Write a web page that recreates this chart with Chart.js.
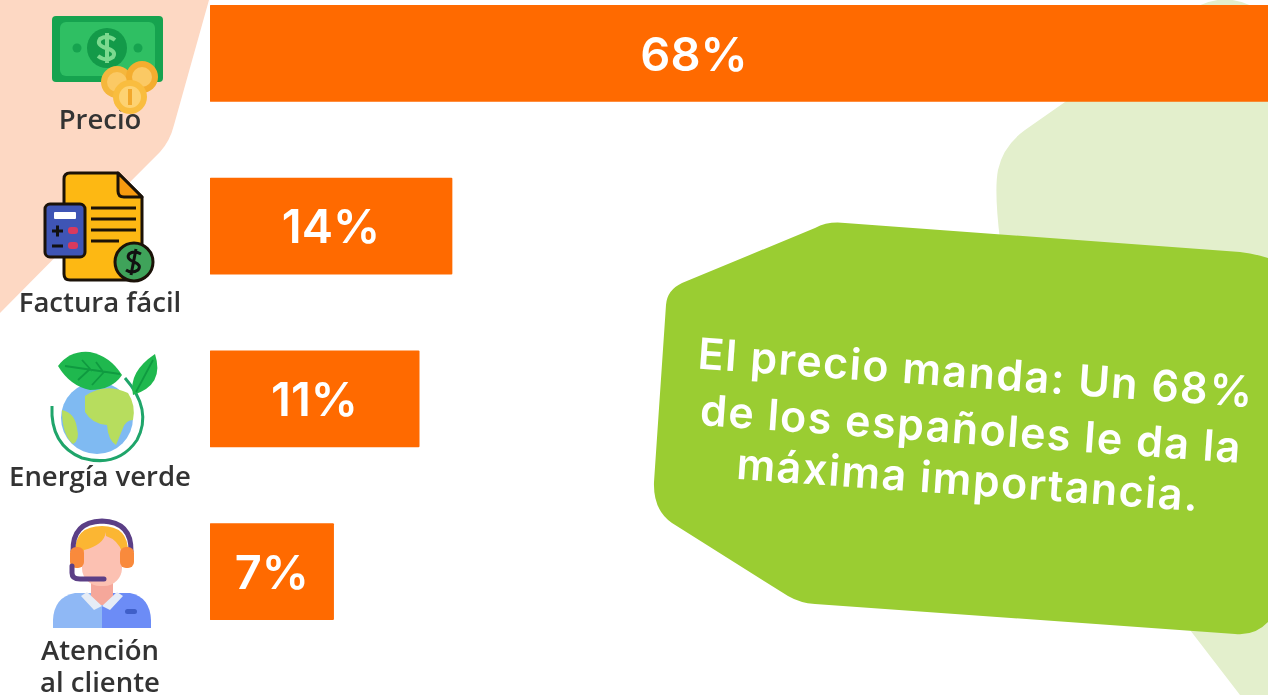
<!DOCTYPE html>
<html lang="es">
<head>
<meta charset="utf-8">
<title>El precio manda</title>
<style>
html,body{margin:0;padding:0;background:#fff;width:1268px;height:695px;overflow:hidden}
svg.layer{position:absolute;left:0;top:0;width:1268px;height:695px}
#bg{z-index:0}
#wrap{position:absolute;left:0;top:-33px;width:1268px;height:728px;z-index:1}
#fg{z-index:2}
</style>
<script src="https://cdn.jsdelivr.net/npm/chart.js@4"></script>
</head>
<body>
<svg id="bg" class="layer" viewBox="0 0 1268 695">
  <path fill="#fdd8c3" d="M0,0 L209,0 L174,125 Q170,141 160,152 Q80,232 0,313 Z"/>
  <path fill="#e3efcc" d="M1198,6 Q1225,-7 1252,6 L1268,14 L1268,695 L1240,695 L1190,630 L1000,240 Q994,190 998,170 Q1003,146 1025,130 L1075,95 Z"/>
</svg>
<div id="wrap"><canvas id="chart"></canvas></div>
<svg id="fg" class="layer" viewBox="0 0 1268 695">
  <!-- Billete -->
  <rect x="52" y="16" width="111" height="66" rx="4" fill="#16a34f"/>
  <rect x="60" y="22" width="95" height="54" rx="6" fill="#2fbf63"/>
  <circle cx="77" cy="48" r="4.5" fill="#16a34f"/><circle cx="138" cy="48" r="4.5" fill="#16a34f"/>
  <circle cx="107" cy="48" r="20" fill="#139a49"/>
  <path d="M115,40 Q107,34 100,39 Q96,45 106,48 Q117,51 113,57 Q106,62 98,56 M107,33 V63" fill="none" stroke="#7bd98f" stroke-width="4"/>
  <circle cx="117" cy="82" r="16" fill="#f5b73d"/><circle cx="142" cy="77" r="16" fill="#f4ad2f"/>
  <circle cx="117" cy="82" r="10" fill="#fbc964"/><circle cx="142" cy="77" r="10" fill="#fbc964"/>
  <circle cx="130" cy="97" r="17" fill="#f9bd3f"/><circle cx="130" cy="97" r="11" fill="#fdd272"/>
  <rect x="128" y="89" width="4" height="16" fill="#f2a82b"/>
  <!-- Factura -->
  <path d="M70,173 H118 L142,197 V275 Q142,280 136,280 H70 Q64,280 64,274 V179 Q64,173 70,173 Z" fill="#fdb813" stroke="#1b1208" stroke-width="3" stroke-linejoin="round"/>
  <path d="M118,173 L142,197 H124 Q118,197 118,191 Z" fill="#f79a0f" stroke="#1b1208" stroke-width="3" stroke-linejoin="round"/>
  <path d="M91,208 H136 M91,219 H136 M91,230 H136 M91,241 H119" stroke="#1b1208" stroke-width="3" fill="none"/>
  <rect x="45" y="204" width="40" height="53" rx="5" fill="#3f55b5" stroke="#1b1208" stroke-width="3"/>
  <rect x="54" y="212" width="22" height="7" rx="1" fill="#fff"/>
  <path d="M52,231 H63 M57.500,225.500 V236.500 M52,246 H63" stroke="#111" stroke-width="3"/>
  <rect x="68" y="227" width="10" height="7" rx="3" fill="#d83a5e"/><rect x="68" y="242" width="10" height="7" rx="3" fill="#d83a5e"/>
  <circle cx="134" cy="262" r="19" fill="#3fa35a" stroke="#1b1208" stroke-width="3"/>
  <path d="M141,254 Q134,250 129,254 Q126,259 134,262 Q142,265 138,270 Q132,274 126,270 M136,249 L131,275" fill="none" stroke="#111" stroke-width="3"/>
  <!-- Planeta -->
  <circle cx="97" cy="418" r="36" fill="#7fbaf2"/>
  <path fill="#b7dd5e" d="M85,396 Q105,382 128,393 Q136,405 133,420 Q126,420 123,428 L116,445 Q108,440 107,425 Q92,424 85,412 Z M62,410 Q75,413 77,428 Q80,440 73,444 Q62,435 62,410 Z"/>
  <path d="M52,406 Q50,445 82,458 Q118,468 137,440 Q153,410 125,378" fill="none" stroke="#1fa56a" stroke-width="3"/>
  <path fill="#1fb84e" d="M58,366 Q70,350 90,352 Q110,356 122,375 Q112,390 90,390 Q70,386 58,366 Z"/>
  <path d="M65,366 L120,374 M82,360 L92,371 M96,362 L104,373 M78,380 L90,369 M92,385 L104,372" stroke="#0f9a40" stroke-width="1.800" fill="none"/>
  <path fill="#1fb84e" d="M133,395 Q128,372 155,354 Q165,385 133,395 Z"/>
  <path d="M136,392 L153,360" stroke="#0f9a40" stroke-width="1.800"/>
  <!-- Agente -->
  <path fill="#8fb8f5" d="M102,593 H75 Q54,597 53,620 V628 H102 Z"/>
  <path fill="#6c8cf6" d="M102,593 H130 Q150,597 151,620 V628 H102 Z"/>
  <rect x="125" y="609" width="12" height="5" rx="2.500" fill="#3f5fc9"/>
  <rect x="91" y="575" width="22" height="30" fill="#f5a79a"/>
  <path fill="#e5ecf6" d="M87,592 L102,606 L94,610 L81,596 Z M117,592 L102,606 L110,610 L123,596 Z"/>
  <rect x="82" y="530" width="40" height="56" rx="18" fill="#fcc1b2"/>
  <path fill="#fbb633" d="M75,552 Q75,526 102,526 Q128,526 128,552 L122,552 Q118,540 106,536 L106,532 Q104,545 84,550 L82,556 Z"/>
  <path d="M73,552 Q72,522 102,521 Q132,522 131,552" fill="none" stroke="#5b3f86" stroke-width="5"/>
  <rect x="70" y="547" width="14" height="21" rx="6" fill="#f98a3c"/><rect x="120" y="547" width="14" height="21" rx="6" fill="#f98a3c"/>
  <path d="M72,566 V573 Q72,579 80,579 H104" fill="none" stroke="#5b3f86" stroke-width="5" stroke-linecap="round"/>
  <!-- Recuadro -->
  <path fill="#9acd32" d="M815,228 Q828,221 845,223 L1240,252 Q1252,253 1268,258 L1268,622 Q1255,636 1235,634 L815,604 Q800,603 788,596 L672,523 Q653,510 654,482 L666,305 Q667,290 682,283 Z"/>
  <g fill="#ffffff" font-family="Inter, 'Open Sans', sans-serif" font-size="43" font-weight="600" text-anchor="middle" letter-spacing="1.500">
    <text transform="translate(975,388) rotate(4)">El precio manda: Un 68%</text>
    <text transform="translate(970,444) rotate(4)">de los españoles le da la</text>
    <text transform="translate(967,495) rotate(4)">máxima importancia.</text>
  </g>
</svg>
<script>
const categories = [["Precio"], ["Factura fácil"], ["Energía verde"], ["Atención", "al cliente"]];
const printedLabels = ["68%", "14%", "11%", "7%"];
// Bar lengths as drawn in the reference, on the scale fixed by the 14% bar.
const barLengths = [68, 14, 12.1, 7.15];
const categoryDrop = [68, 78, 79, 81];
const firstLabelX = 694;

const overlay = {
  id: "overlay",
  afterDatasetsDraw(chart) {
    const ctx = chart.ctx, meta = chart.getDatasetMeta(0), y = chart.scales.y;
    ctx.save();
    ctx.textAlign = "center"; ctx.textBaseline = "middle";
    ctx.fillStyle = "#ffffff";
    ctx.font = "600 47px Inter, 'Open Sans', sans-serif";
    meta.data.forEach((bar, i) => {
      const x = i === 0 ? firstLabelX : (bar.base + bar.x) / 2;
      ctx.fillText(printedLabels[i], x, bar.y + 3);
    });
    ctx.fillStyle = "#333333";
    ctx.font = "600 27.5px 'Open Sans', sans-serif";
    categories.forEach((lines, i) => {
      const cy = y.getPixelForValue(i) + categoryDrop[i];
      lines.forEach((t, j) => ctx.fillText(t, 100, cy + j * 32));
    });
    ctx.restore();
  }
};

new Chart(document.getElementById("chart"), {
  type: "bar",
  data: {
    labels: categories.map(c => c.join(" ")),
    datasets: [{ data: barLengths, backgroundColor: "#ff6a00", barThickness: 96, borderRadius: 1, borderSkipped: false }]
  },
  options: {
    indexAxis: "y",
    responsive: true,
    maintainAspectRatio: false,
    animation: false,
    layout: { padding: { left: 210, top: 0, right: 0, bottom: 37 } },
    plugins: { legend: { display: false }, tooltip: { enabled: false } },
    scales: {
      x: { min: 0, max: 61.2, display: false },
      y: { display: false }
    }
  },
  plugins: [overlay]
});
</script>
</body>
</html>
